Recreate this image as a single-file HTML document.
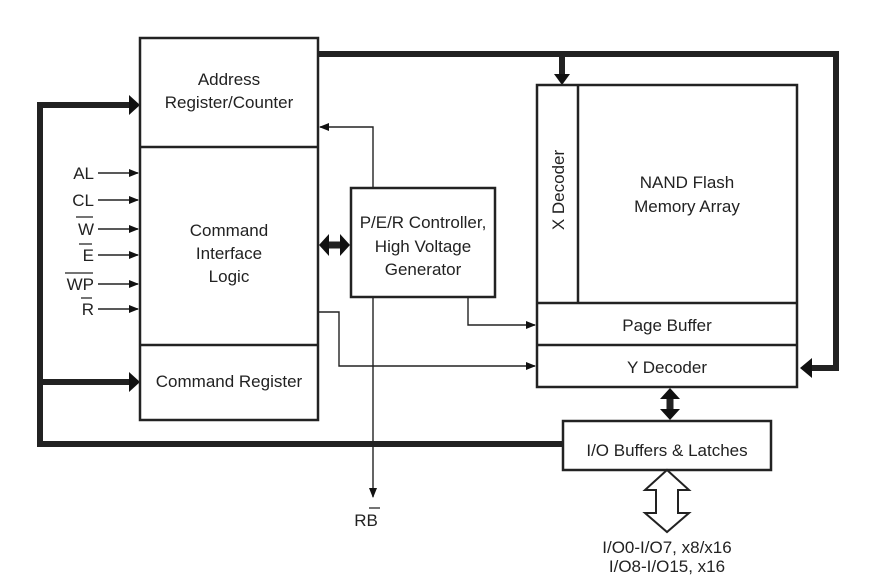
<!DOCTYPE html>
<html><head><style>body{margin:0;background:#fff}svg{display:block}text{font-family:"Liberation Sans",sans-serif;font-size:17px;fill:#222}</style></head>
<body>
<svg width="876" height="588" viewBox="0 0 876 588" xmlns="http://www.w3.org/2000/svg">
<defs>
<marker id="a" markerWidth="10" markerHeight="8" refX="9" refY="4" orient="auto" markerUnits="userSpaceOnUse"><path d="M0,0L10,4L0,8z" fill="#111"/></marker>
</defs>
<g fill="none" stroke="#222">
<path d="M318,54H836V368H806" stroke-width="6"/>
<path d="M800,368l12,-10v20z" fill="#111" stroke="none"/>
<path d="M562,54V76" stroke-width="6"/>
<path d="M562,85l-8,-11h16z" fill="#111" stroke="none"/>
<path d="M563,444H40V105H130" stroke-width="6"/>
<path d="M140,105l-11,-10v20z" fill="#111" stroke="none"/>
<path d="M40,382H130" stroke-width="6"/>
<path d="M140,382l-11,-10v20z" fill="#111" stroke="none"/>
<path d="M328,245H341" stroke-width="7"/>
<path d="M319,245l10,-11v22z M350,245l-10,-11v22z" fill="#111" stroke="none"/>
<path d="M670,398V411" stroke-width="7"/>
<path d="M670,388l-10,11h20z M670,420l-10,-11h20z" fill="#111" stroke="none"/>
<rect x="140" y="38" width="178" height="382" stroke-width="2.5"/>
<path d="M140,147H318M140,345H318" stroke-width="2.5"/>
<rect x="351" y="188" width="144" height="109" stroke-width="2.5"/>
<rect x="537" y="85" width="260" height="302" stroke-width="2.5"/>
<path d="M578,85V303M537,303H797M537,345H797" stroke-width="2.5"/>
<rect x="563" y="421" width="208" height="49" stroke-width="2.5"/>
<g stroke-width="1.4">
<path d="M373,188V127H320" marker-end="url(#a)"/>
<path d="M373,297V497" marker-end="url(#a)"/>
<path d="M468,297V325H535" marker-end="url(#a)"/>
<path d="M318,312H339V366H535" marker-end="url(#a)"/>
<path d="M98,173H138" marker-end="url(#a)"/>
<path d="M98,200H138" marker-end="url(#a)"/>
<path d="M98,229H138" marker-end="url(#a)"/>
<path d="M98,255H138" marker-end="url(#a)"/>
<path d="M98,284H138" marker-end="url(#a)"/>
<path d="M98,309H138" marker-end="url(#a)"/>
</g>
<path d="M667,470L689,490H678V513H689L667,532L645,513H656V490H645Z" stroke-width="2" fill="#fff"/>
<path d="M76,217h17M79,244h13M65,273h28M81,298h11M369,508h11" stroke-width="1.2"/>
</g>
<text x="229" y="85" text-anchor="middle">Address</text>
<text x="229" y="108" text-anchor="middle">Register/Counter</text>
<text x="229" y="236" text-anchor="middle">Command</text>
<text x="229" y="259" text-anchor="middle">Interface</text>
<text x="229" y="282" text-anchor="middle">Logic</text>
<text x="229" y="387" text-anchor="middle">Command Register</text>
<text x="423" y="228" text-anchor="middle">P/E/R Controller,</text>
<text x="423" y="252" text-anchor="middle">High Voltage</text>
<text x="423" y="275" text-anchor="middle">Generator</text>
<text x="687" y="188" text-anchor="middle">NAND Flash</text>
<text x="687" y="212" text-anchor="middle">Memory Array</text>
<text transform="translate(564,190) rotate(-90)" text-anchor="middle">X Decoder</text>
<text x="667" y="331" text-anchor="middle">Page Buffer</text>
<text x="667" y="373" text-anchor="middle">Y Decoder</text>
<text x="667" y="456" text-anchor="middle">I/O Buffers &amp; Latches</text>
<text x="94" y="179" text-anchor="end">AL</text>
<text x="94" y="206" text-anchor="end">CL</text>
<text x="94" y="235" text-anchor="end">W</text>
<text x="94" y="261" text-anchor="end">E</text>
<text x="94" y="290" text-anchor="end">WP</text>
<text x="94" y="315" text-anchor="end">R</text>
<text x="366" y="526" text-anchor="middle">RB</text>
<text x="667" y="553" text-anchor="middle">I/O0-I/O7, x8/x16</text>
<text x="667" y="572" text-anchor="middle">I/O8-I/O15, x16</text>
</svg>
</body></html>
